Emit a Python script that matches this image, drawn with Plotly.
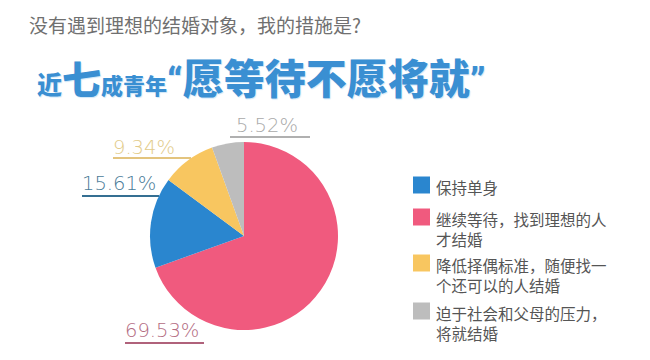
import plotly.graph_objects as go

# ---- data ----
categories = ["保持单身", "继续等待，找到理想的人<br>才结婚", "降低择偶标准，随便找一<br>个还可以的人结婚", "迫于社会和父母的压力，<br>将就结婚"]
values = [15.61, 69.53, 9.34, 5.52]
colors = ["#2a86cf", "#f05a7e", "#f8c660", "#bdbdbd"]
pie_order = [1, 0, 2, 3]  # clockwise from 12 o'clock

W, H = 650, 360
px = lambda x: x / W
py = lambda y: 1 - y / H

fig = go.Figure()
fig.add_trace(go.Pie(
    labels=[categories[i] for i in pie_order],
    values=[values[i] for i in pie_order],
    marker=dict(colors=[colors[i] for i in pie_order], line=dict(width=0)),
    sort=False, direction="clockwise", rotation=0,
    textinfo="none", hoverinfo="label+percent",
    domain=dict(x=[px(150), px(338)], y=[py(330), py(142)]),
    showlegend=False,
))

annotations = []
shapes = []

# titles
annotations.append(dict(
    x=px(27), y=py(25), xref="paper", yref="paper", xanchor="left", yanchor="middle",
    text="没有遇到理想的结婚对象，我的措施是?", showarrow=False,
    font=dict(family="Noto Sans CJK SC", size=19, color="#707070")))
annotations.append(dict(
    x=px(35), y=py(76), xref="paper", yref="paper", xanchor="left", yanchor="middle",
    text=('<span style="font-size:25px">近</span>'
          '<span style="font-size:39px">七</span>'
          '<span style="font-size:22px">成青年</span>'
          '<span style="font-family:Roboto;font-size:37px">“</span>'
          '<span style="font-size:41px">愿等待不愿将就</span>'
          '<span style="font-family:Roboto;font-size:37px">”</span>'),
    showarrow=False,
    font=dict(family="Noto Sans CJK SC", size=41, color="#3a8fd2", weight=900,
              shadow="1px 1px 1px #cfe6f7")))

# percentage labels with underlines (label left x / center y, underline x0,x1,y)
label_layout = {
    0: dict(tx=80, ty=183, ux0=82, ux1=159, uy=196, tc="#4a7b98", lc="#356f92"),
    1: dict(tx=123, ty=330, ux0=125, ux1=204, uy=343, tc="#b36b82", lc="#b0627b"),
    2: dict(tx=111, ty=147, ux0=113, ux1=191, uy=158, tc="#e2cb8a", lc="#e3c47e"),
    3: dict(tx=234, ty=125, ux0=230, ux1=310, uy=137, tc="#a9a9a9", lc="#b0b0b0"),
}
for i, v in enumerate(values):
    L = label_layout[i]
    annotations.append(dict(
        x=px(L["tx"]), y=py(L["ty"]), xref="paper", yref="paper",
        xanchor="left", yanchor="middle", text=f"{v:.2f}%", showarrow=False,
        font=dict(family="DejaVu Sans", size=19.5, color=L["tc"], weight=300)))
    shapes.append(dict(type="line", xref="paper", yref="paper",
                       x0=px(L["ux0"]), x1=px(L["ux1"]), y0=py(L["uy"]), y1=py(L["uy"]),
                       line=dict(color=L["lc"], width=2)))

# legend (square + text)
legend_rows = [185, 217, 263, 311]
for i, cat in enumerate(categories):
    yc = legend_rows[i]
    shapes.append(dict(type="rect", xref="paper", yref="paper",
                       x0=px(413), x1=px(430), y0=py(yc - 8.5), y1=py(yc + 8.5),
                       fillcolor=colors[i], line=dict(width=0)))
    annotations.append(dict(
        x=px(434), y=py(yc - 11), xref="paper", yref="paper",
        xanchor="left", yanchor="top", align="left", text=cat, showarrow=False,
        font=dict(family="Noto Sans CJK SC", size=15.5, color="#555555")))

fig.update_layout(
    width=W, height=H, margin=dict(l=0, r=0, t=0, b=0),
    paper_bgcolor="white", plot_bgcolor="white",
    annotations=annotations, shapes=shapes,
)
fig.write_html("out.html", config={"displayModeBar": False},
               post_script="document.body.style.margin='0';")
